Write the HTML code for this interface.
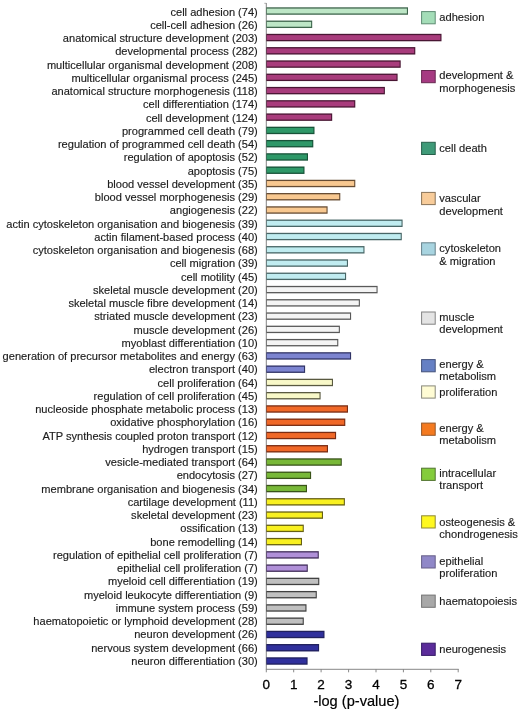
<!DOCTYPE html>
<html><head><meta charset="utf-8"><title>GO enrichment</title>
<style>
html,body{margin:0;padding:0;background:#fff;}
body{width:520px;height:710px;overflow:hidden;font-family:"Liberation Sans",sans-serif;}
svg{display:block;will-change:transform;opacity:0.999;font-family:"Liberation Sans",sans-serif;}
.l{font-size:11.07px;fill:#1c1c1c;text-anchor:end;stroke:#1c1c1c;stroke-width:0.15px;}
.g{font-size:11.12px;fill:#1c1c1c;stroke:#1c1c1c;stroke-width:0.15px;}
.t{font-size:13.5px;fill:#000;text-anchor:middle;stroke:#000;stroke-width:0.3px;}
.x{font-size:14.6px;fill:#000;text-anchor:middle;stroke:#000;stroke-width:0.2px;}
</style></head><body>
<svg width="520" height="710" viewBox="0 0 520 710">
<rect width="520" height="710" fill="#fff"/>
<line x1="266.3" y1="3" x2="266.3" y2="669.5" stroke="#666" stroke-width="0.8"/>
<line x1="264.3" y1="3.3" x2="266.3" y2="3.3" stroke="#999" stroke-width="0.8"/>
<line x1="266" y1="669.3" x2="458.7" y2="669.3" stroke="#888" stroke-width="1"/>
<line x1="266.3" y1="669" x2="266.3" y2="672.3" stroke="#888" stroke-width="1"/>
<text class="t" x="266.3" y="688.6">0</text>
<line x1="293.7" y1="669" x2="293.7" y2="672.3" stroke="#888" stroke-width="1"/>
<text class="t" x="293.7" y="688.6">1</text>
<line x1="321.1" y1="669" x2="321.1" y2="672.3" stroke="#888" stroke-width="1"/>
<text class="t" x="321.1" y="688.6">2</text>
<line x1="348.6" y1="669" x2="348.6" y2="672.3" stroke="#888" stroke-width="1"/>
<text class="t" x="348.6" y="688.6">3</text>
<line x1="376.0" y1="669" x2="376.0" y2="672.3" stroke="#888" stroke-width="1"/>
<text class="t" x="376.0" y="688.6">4</text>
<line x1="403.4" y1="669" x2="403.4" y2="672.3" stroke="#888" stroke-width="1"/>
<text class="t" x="403.4" y="688.6">5</text>
<line x1="430.8" y1="669" x2="430.8" y2="672.3" stroke="#888" stroke-width="1"/>
<text class="t" x="430.8" y="688.6">6</text>
<line x1="458.2" y1="669" x2="458.2" y2="672.3" stroke="#888" stroke-width="1"/>
<text class="t" x="458.2" y="688.6">7</text>
<text class="x" x="356.4" y="705.6">-log (p-value)</text>
<rect x="266.30" y="7.30" width="141.70" height="7.45" fill="#3E654C"/>
<rect x="266.90" y="8.60" width="140.00" height="4.85" fill="#BDE6C6"/>
<text class="l" x="257.8" y="15.50">cell adhesion (74)</text>
<rect x="266.30" y="20.57" width="45.90" height="7.45" fill="#3E654C"/>
<rect x="266.90" y="21.87" width="44.20" height="4.85" fill="#BDE6C6"/>
<text class="l" x="257.8" y="28.75">cell-cell adhesion (26)</text>
<rect x="266.30" y="33.83" width="175.20" height="7.45" fill="#491633"/>
<rect x="266.90" y="35.13" width="173.50" height="4.85" fill="#A83C7C"/>
<text class="l" x="257.8" y="42.01">anatomical structure development (203)</text>
<rect x="266.30" y="47.09" width="149.00" height="7.45" fill="#491633"/>
<rect x="266.90" y="48.39" width="147.30" height="4.85" fill="#A83C7C"/>
<text class="l" x="257.8" y="55.26">developmental process (282)</text>
<rect x="266.30" y="60.36" width="134.40" height="7.45" fill="#491633"/>
<rect x="266.90" y="61.66" width="132.70" height="4.85" fill="#A83C7C"/>
<text class="l" x="257.8" y="68.52">multicellular organismal development (208)</text>
<rect x="266.30" y="73.62" width="131.30" height="7.45" fill="#491633"/>
<rect x="266.90" y="74.92" width="129.60" height="4.85" fill="#A83C7C"/>
<text class="l" x="257.8" y="81.77">multicellular organismal process (245)</text>
<rect x="266.30" y="86.89" width="118.60" height="7.45" fill="#491633"/>
<rect x="266.90" y="88.19" width="116.90" height="4.85" fill="#A83C7C"/>
<text class="l" x="257.8" y="95.02">anatomical structure morphogenesis (118)</text>
<rect x="266.30" y="100.16" width="89.00" height="7.45" fill="#491633"/>
<rect x="266.90" y="101.45" width="87.30" height="4.85" fill="#A83C7C"/>
<text class="l" x="257.8" y="108.28">cell differentiation (174)</text>
<rect x="266.30" y="113.42" width="65.90" height="7.45" fill="#491633"/>
<rect x="266.90" y="114.72" width="64.20" height="4.85" fill="#A83C7C"/>
<text class="l" x="257.8" y="121.53">cell development (124)</text>
<rect x="266.30" y="126.69" width="48.20" height="7.45" fill="#185339"/>
<rect x="266.90" y="127.98" width="46.50" height="4.85" fill="#2E9868"/>
<text class="l" x="257.8" y="134.79">programmed cell death (79)</text>
<rect x="266.30" y="139.95" width="47.00" height="7.45" fill="#185339"/>
<rect x="266.90" y="141.25" width="45.30" height="4.85" fill="#2E9868"/>
<text class="l" x="257.8" y="148.04">regulation of programmed cell death (54)</text>
<rect x="266.30" y="153.22" width="41.70" height="7.45" fill="#185339"/>
<rect x="266.90" y="154.52" width="40.00" height="4.85" fill="#2E9868"/>
<text class="l" x="257.8" y="161.29">regulation of apoptosis (52)</text>
<rect x="266.30" y="166.48" width="38.20" height="7.45" fill="#185339"/>
<rect x="266.90" y="167.78" width="36.50" height="4.85" fill="#2E9868"/>
<text class="l" x="257.8" y="174.55">apoptosis (75)</text>
<rect x="266.30" y="179.75" width="89.00" height="7.45" fill="#664C33"/>
<rect x="266.90" y="181.05" width="87.30" height="4.85" fill="#F8C890"/>
<text class="l" x="257.8" y="187.80">blood vessel development (35)</text>
<rect x="266.30" y="193.01" width="74.00" height="7.45" fill="#664C33"/>
<rect x="266.90" y="194.31" width="72.30" height="4.85" fill="#F8C890"/>
<text class="l" x="257.8" y="201.06">blood vessel morphogenesis (29)</text>
<rect x="266.30" y="206.28" width="61.30" height="7.45" fill="#664C33"/>
<rect x="266.90" y="207.58" width="59.60" height="4.85" fill="#F8C890"/>
<text class="l" x="257.8" y="214.31">angiogenesis (22)</text>
<rect x="266.30" y="219.54" width="136.30" height="7.45" fill="#486666"/>
<rect x="266.90" y="220.84" width="134.60" height="4.85" fill="#C0ECF0"/>
<text class="l" x="257.8" y="227.56">actin cytoskeleton organisation and biogenesis (39)</text>
<rect x="266.30" y="232.81" width="135.50" height="7.45" fill="#486666"/>
<rect x="266.90" y="234.11" width="133.80" height="4.85" fill="#C0ECF0"/>
<text class="l" x="257.8" y="240.82">actin filament-based process (40)</text>
<rect x="266.30" y="246.07" width="98.20" height="7.45" fill="#486666"/>
<rect x="266.90" y="247.37" width="96.50" height="4.85" fill="#C0ECF0"/>
<text class="l" x="257.8" y="254.07">cytoskeleton organisation and biogenesis (68)</text>
<rect x="266.30" y="259.34" width="81.70" height="7.45" fill="#486666"/>
<rect x="266.90" y="260.64" width="80.00" height="4.85" fill="#C0ECF0"/>
<text class="l" x="257.8" y="267.33">cell migration (39)</text>
<rect x="266.30" y="272.60" width="79.80" height="7.45" fill="#486666"/>
<rect x="266.90" y="273.90" width="78.10" height="4.85" fill="#C0ECF0"/>
<text class="l" x="257.8" y="280.58">cell motility (45)</text>
<rect x="266.30" y="285.87" width="111.30" height="7.45" fill="#595959"/>
<rect x="266.90" y="287.17" width="109.60" height="4.85" fill="#F4F4F4"/>
<text class="l" x="257.8" y="293.83">skeletal muscle development (20)</text>
<rect x="266.30" y="299.13" width="93.60" height="7.45" fill="#595959"/>
<rect x="266.90" y="300.43" width="91.90" height="4.85" fill="#F4F4F4"/>
<text class="l" x="257.8" y="307.09">skeletal muscle fibre development (14)</text>
<rect x="266.30" y="312.40" width="84.80" height="7.45" fill="#595959"/>
<rect x="266.90" y="313.70" width="83.10" height="4.85" fill="#F4F4F4"/>
<text class="l" x="257.8" y="320.34">striated muscle development (23)</text>
<rect x="266.30" y="325.66" width="73.60" height="7.45" fill="#595959"/>
<rect x="266.90" y="326.96" width="71.90" height="4.85" fill="#F4F4F4"/>
<text class="l" x="257.8" y="333.60">muscle development (26)</text>
<rect x="266.30" y="338.93" width="72.00" height="7.45" fill="#595959"/>
<rect x="266.90" y="340.23" width="70.30" height="4.85" fill="#F4F4F4"/>
<text class="l" x="257.8" y="346.85">myoblast differentiation (10)</text>
<rect x="266.30" y="352.19" width="84.80" height="7.45" fill="#303366"/>
<rect x="266.90" y="353.49" width="83.10" height="4.85" fill="#7C84D0"/>
<text class="l" x="257.8" y="360.10">generation of precursor metabolites and energy (63)</text>
<rect x="266.30" y="365.46" width="38.80" height="7.45" fill="#303366"/>
<rect x="266.90" y="366.76" width="37.10" height="4.85" fill="#7C84D0"/>
<text class="l" x="257.8" y="373.36">electron transport (40)</text>
<rect x="266.30" y="378.72" width="66.70" height="7.45" fill="#595940"/>
<rect x="266.90" y="380.02" width="65.00" height="4.85" fill="#F8F8C8"/>
<text class="l" x="257.8" y="386.61">cell proliferation (64)</text>
<rect x="266.30" y="391.99" width="54.30" height="7.45" fill="#595940"/>
<rect x="266.90" y="393.29" width="52.60" height="4.85" fill="#F8F8C8"/>
<text class="l" x="257.8" y="399.87">regulation of cell proliferation (45)</text>
<rect x="266.30" y="405.25" width="81.70" height="7.45" fill="#792C13"/>
<rect x="266.90" y="406.55" width="80.00" height="4.85" fill="#F06828"/>
<text class="l" x="257.8" y="413.12">nucleoside phosphate metabolic process (13)</text>
<rect x="266.30" y="418.52" width="79.00" height="7.45" fill="#792C13"/>
<rect x="266.90" y="419.82" width="77.30" height="4.85" fill="#F06828"/>
<text class="l" x="257.8" y="426.37">oxidative phosphorylation (16)</text>
<rect x="266.30" y="431.78" width="69.80" height="7.45" fill="#792C13"/>
<rect x="266.90" y="433.08" width="68.10" height="4.85" fill="#F06828"/>
<text class="l" x="257.8" y="439.63">ATP synthesis coupled proton transport (12)</text>
<rect x="266.30" y="445.05" width="61.70" height="7.45" fill="#792C13"/>
<rect x="266.90" y="446.35" width="60.00" height="4.85" fill="#F06828"/>
<text class="l" x="257.8" y="452.88">hydrogen transport (15)</text>
<rect x="266.30" y="458.31" width="75.50" height="7.45" fill="#395319"/>
<rect x="266.90" y="459.61" width="73.80" height="4.85" fill="#78B838"/>
<text class="l" x="257.8" y="466.14">vesicle-mediated transport (64)</text>
<rect x="266.30" y="471.58" width="44.80" height="7.45" fill="#395319"/>
<rect x="266.90" y="472.88" width="43.10" height="4.85" fill="#78B838"/>
<text class="l" x="257.8" y="479.39">endocytosis (27)</text>
<rect x="266.30" y="484.84" width="40.70" height="7.45" fill="#395319"/>
<rect x="266.90" y="486.14" width="39.00" height="4.85" fill="#78B838"/>
<text class="l" x="257.8" y="492.64">membrane organisation and biogenesis (34)</text>
<rect x="266.30" y="498.11" width="78.60" height="7.45" fill="#666013"/>
<rect x="266.90" y="499.41" width="76.90" height="4.85" fill="#F8F020"/>
<text class="l" x="257.8" y="505.90">cartilage development (11)</text>
<rect x="266.30" y="511.37" width="56.70" height="7.45" fill="#666013"/>
<rect x="266.90" y="512.67" width="55.00" height="4.85" fill="#F8F020"/>
<text class="l" x="257.8" y="519.15">skeletal development (23)</text>
<rect x="266.30" y="524.63" width="37.50" height="7.45" fill="#666013"/>
<rect x="266.90" y="525.93" width="35.80" height="4.85" fill="#F8F020"/>
<text class="l" x="257.8" y="532.41">ossification (13)</text>
<rect x="266.30" y="537.90" width="35.70" height="7.45" fill="#666013"/>
<rect x="266.90" y="539.20" width="34.00" height="4.85" fill="#F8F020"/>
<text class="l" x="257.8" y="545.66">bone remodelling (14)</text>
<rect x="266.30" y="551.16" width="52.50" height="7.45" fill="#402C59"/>
<rect x="266.90" y="552.46" width="50.80" height="4.85" fill="#B090D8"/>
<text class="l" x="257.8" y="558.91">regulation of epithelial cell proliferation (7)</text>
<rect x="266.30" y="564.43" width="41.50" height="7.45" fill="#402C59"/>
<rect x="266.90" y="565.73" width="39.80" height="4.85" fill="#B090D8"/>
<text class="l" x="257.8" y="572.17">epithelial cell proliferation (7)</text>
<rect x="266.30" y="577.69" width="53.00" height="7.45" fill="#404040"/>
<rect x="266.90" y="578.99" width="51.30" height="4.85" fill="#C0C0C0"/>
<text class="l" x="257.8" y="585.42">myeloid cell differentiation (19)</text>
<rect x="266.30" y="590.96" width="50.50" height="7.45" fill="#404040"/>
<rect x="266.90" y="592.26" width="48.80" height="4.85" fill="#C0C0C0"/>
<text class="l" x="257.8" y="598.68">myeloid leukocyte differentiation (9)</text>
<rect x="266.30" y="604.23" width="40.20" height="7.45" fill="#404040"/>
<rect x="266.90" y="605.52" width="38.50" height="4.85" fill="#C0C0C0"/>
<text class="l" x="257.8" y="611.93">immune system process (59)</text>
<rect x="266.30" y="617.49" width="37.50" height="7.45" fill="#404040"/>
<rect x="266.90" y="618.79" width="35.80" height="4.85" fill="#C0C0C0"/>
<text class="l" x="257.8" y="625.18">haematopoietic or lymphoid development (28)</text>
<rect x="266.30" y="630.75" width="58.20" height="7.45" fill="#20205C"/>
<rect x="266.90" y="632.05" width="56.50" height="4.85" fill="#30309C"/>
<text class="l" x="257.8" y="638.44">neuron development (26)</text>
<rect x="266.30" y="644.02" width="52.80" height="7.45" fill="#20205C"/>
<rect x="266.90" y="645.32" width="51.10" height="4.85" fill="#30309C"/>
<text class="l" x="257.8" y="651.69">nervous system development (66)</text>
<rect x="266.30" y="657.28" width="41.30" height="7.45" fill="#20205C"/>
<rect x="266.90" y="658.58" width="39.60" height="4.85" fill="#30309C"/>
<text class="l" x="257.8" y="664.95">neuron differentiation (30)</text>
<rect x="421.6" y="11.6" width="13.6" height="12.2" fill="#A4DDB8" stroke="#5E8C73" stroke-width="1"/>
<text class="g" x="439.3" y="21.0">adhesion</text>
<rect x="421.6" y="70.5" width="13.6" height="12.2" fill="#A63A82" stroke="#672851" stroke-width="1"/>
<text class="g" x="439.3" y="79.4">development &amp;</text>
<text class="g" x="439.3" y="91.5">morphogenesis</text>
<rect x="421.6" y="142.3" width="13.6" height="12.2" fill="#3F9A78" stroke="#275F4A" stroke-width="1"/>
<text class="g" x="439.3" y="151.8">cell death</text>
<rect x="421.6" y="192.4" width="13.6" height="12.2" fill="#F8CC9A" stroke="#887358" stroke-width="1"/>
<text class="g" x="439.3" y="202.3">vascular</text>
<text class="g" x="439.3" y="214.5">development</text>
<rect x="421.6" y="242.8" width="13.6" height="12.2" fill="#A8D4E0" stroke="#66818B" stroke-width="1"/>
<text class="g" x="439.3" y="252.3">cytoskeleton</text>
<text class="g" x="439.3" y="264.6">&amp; migration</text>
<rect x="421.6" y="312.0" width="13.6" height="12.2" fill="#E4E4E4" stroke="#828282" stroke-width="1"/>
<text class="g" x="439.3" y="320.6">muscle</text>
<text class="g" x="439.3" y="332.8">development</text>
<rect x="421.6" y="359.6" width="13.6" height="12.2" fill="#6680C4" stroke="#44517A" stroke-width="1"/>
<text class="g" x="439.3" y="368.2">energy &amp;</text>
<text class="g" x="439.3" y="380.4">metabolism</text>
<rect x="421.6" y="385.9" width="13.6" height="12.2" fill="#FFFCD4" stroke="#88887A" stroke-width="1"/>
<text class="g" x="439.3" y="395.5">proliferation</text>
<rect x="421.6" y="423.1" width="13.6" height="12.2" fill="#F47A20" stroke="#955828" stroke-width="1"/>
<text class="g" x="439.3" y="432.0">energy &amp;</text>
<text class="g" x="439.3" y="444.3">metabolism</text>
<rect x="421.6" y="468.2" width="13.6" height="12.2" fill="#84CC3C" stroke="#51732F" stroke-width="1"/>
<text class="g" x="439.3" y="476.8">intracellular</text>
<text class="g" x="439.3" y="488.9">transport</text>
<rect x="421.6" y="515.8" width="13.6" height="12.2" fill="#FFF820" stroke="#8E8836" stroke-width="1"/>
<text class="g" x="439.3" y="525.8">osteogenesis &amp;</text>
<text class="g" x="439.3" y="538.0">chondrogenesis</text>
<rect x="421.6" y="555.8" width="13.6" height="12.2" fill="#9088C8" stroke="#665F88" stroke-width="1"/>
<text class="g" x="439.3" y="564.9">epithelial</text>
<text class="g" x="439.3" y="577.1">proliferation</text>
<rect x="421.6" y="595.1" width="13.6" height="12.2" fill="#A8A8A8" stroke="#737373" stroke-width="1"/>
<text class="g" x="439.3" y="604.6">haematopoiesis</text>
<rect x="421.6" y="643.2" width="13.6" height="12.2" fill="#5B2C9A" stroke="#361B67" stroke-width="1"/>
<text class="g" x="439.3" y="652.7">neurogenesis</text>
</svg></body></html>
